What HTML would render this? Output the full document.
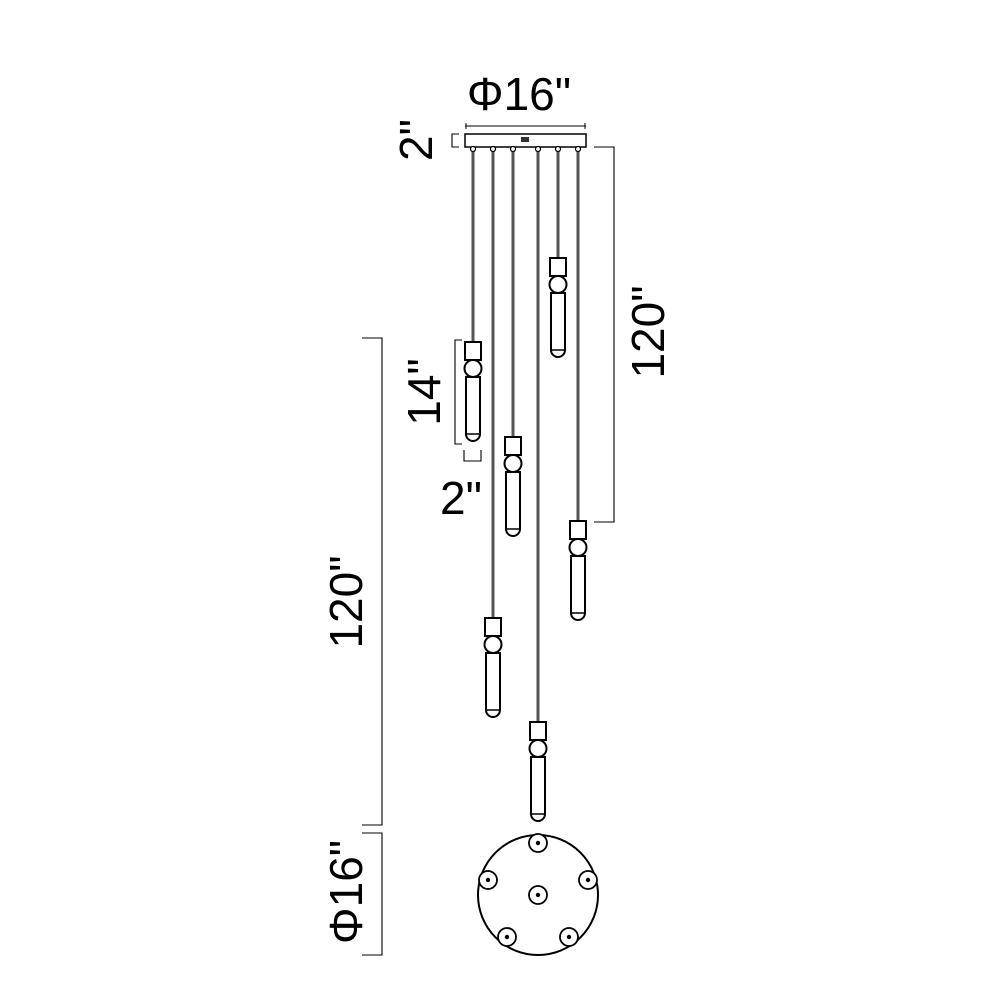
<!DOCTYPE html>
<html><head><style>
html,body{margin:0;padding:0;background:#fff;}
svg{display:block;}
text{font-family:"Liberation Sans",sans-serif;fill:#000;}
</style></head><body>
<svg width="1000" height="1000" viewBox="0 0 1000 1000" xmlns="http://www.w3.org/2000/svg">
<defs>
<g id="p">
  <rect x="-8" y="0" width="16" height="18" fill="#fff" stroke="#000" stroke-width="2"/>
  <circle cx="0" cy="26.5" r="8.5" fill="#fff" stroke="#000" stroke-width="2"/>
  <path d="M-7,35 V92 A7,7 0 0 0 7,92 V35 Z" fill="#fff" stroke="#000" stroke-width="2"/>
  <path d="M-6,92 H6" stroke="#000" stroke-width="1.5"/>
</g>
</defs>
<!-- canopy -->
<rect x="465" y="134" width="121" height="13" fill="#fff" stroke="#000" stroke-width="1.5"/>
<rect x="521" y="137" width="8" height="5" fill="#333"/>
<!-- top dim -->
<line x1="465" y1="126" x2="586" y2="126" stroke="#000" stroke-width="1.1"/>
<line x1="466" y1="123" x2="466" y2="129" stroke="#000"/>
<line x1="585" y1="123" x2="585" y2="129" stroke="#000"/>
<text x="519" y="110" font-size="46" text-anchor="middle">Φ16"</text>
<!-- 2" canopy -->
<path d="M459,134 H452 V147 H459" fill="none" stroke="#000" stroke-width="1.1"/>
<text transform="translate(416,140) rotate(-90)" font-size="46" text-anchor="middle" dominant-baseline="central">2"</text>
<!-- cords -->
<g stroke="#555" stroke-width="3">
<line x1="473" y1="147" x2="473" y2="342"/>
<line x1="493" y1="147" x2="493" y2="618"/>
<line x1="513" y1="147" x2="513" y2="437"/>
<line x1="538" y1="147" x2="538" y2="722"/>
<line x1="558" y1="147" x2="558" y2="258"/>
<line x1="578" y1="147" x2="578" y2="521"/>
</g>
<g fill="#fff" stroke="#000" stroke-width="1.3">
<circle cx="473" cy="149" r="2.5"/><circle cx="493" cy="149" r="2.5"/><circle cx="513" cy="149" r="2.5"/>
<circle cx="538" cy="149" r="2.5"/><circle cx="558" cy="149" r="2.5"/><circle cx="578" cy="149" r="2.5"/>
</g>
<!-- pendants -->
<use href="#p" transform="translate(473,342)"/>
<use href="#p" transform="translate(513,437)"/>
<use href="#p" transform="translate(558,258)"/>
<use href="#p" transform="translate(578,521)"/>
<use href="#p" transform="translate(493,618)"/>
<use href="#p" transform="translate(538,722)"/>
<!-- 14" dim -->
<path d="M462,340 H455 V444 H462" fill="none" stroke="#000" stroke-width="1.1"/>
<text transform="translate(424,392) rotate(-90)" font-size="46" text-anchor="middle" dominant-baseline="central">14"</text>
<!-- 2" pendant -->
<path d="M464,450 V461 H481 V450" fill="none" stroke="#000" stroke-width="1.1"/>
<text x="461" y="514" font-size="46" text-anchor="middle">2"</text>
<!-- right 120 -->
<path d="M594,147 H614 V522 H594" fill="none" stroke="#000" stroke-width="1.1"/>
<text transform="translate(648,332) rotate(-90)" font-size="46" text-anchor="middle" dominant-baseline="central">120"</text>
<!-- left 120 -->
<path d="M362,338 H382 V825 H362" fill="none" stroke="#000" stroke-width="1.1"/>
<text transform="translate(346,602) rotate(-90)" font-size="46" text-anchor="middle" dominant-baseline="central">120"</text>
<!-- bottom phi -->
<path d="M362,833 H382 V955 H362" fill="none" stroke="#000" stroke-width="1.1"/>
<text transform="translate(346,892) rotate(-90)" font-size="46" text-anchor="middle" dominant-baseline="central">Φ16"</text>
<!-- bottom plate -->
<circle cx="538" cy="895" r="60" fill="none" stroke="#000" stroke-width="2"/>
<g fill="#fff" stroke="#000" stroke-width="1.8">
<circle cx="538" cy="843" r="9"/><circle cx="488" cy="880" r="9"/><circle cx="588" cy="880" r="9"/>
<circle cx="538" cy="895" r="9"/><circle cx="507" cy="937" r="9"/><circle cx="569" cy="937" r="9"/>
</g>
<g fill="#000">
<circle cx="538" cy="843" r="2.2"/><circle cx="488" cy="880" r="2.2"/><circle cx="588" cy="880" r="2.2"/>
<circle cx="538" cy="895" r="2.2"/><circle cx="507" cy="937" r="2.2"/><circle cx="569" cy="937" r="2.2"/>
</g>
</svg>
</body></html>
